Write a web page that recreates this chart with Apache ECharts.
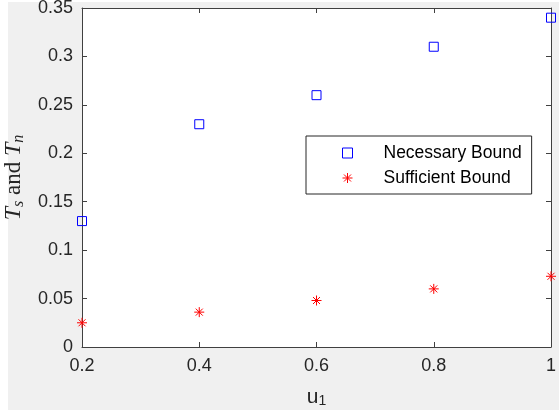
<!DOCTYPE html>
<html>
<head>
<meta charset="utf-8">
<script src="https://cdn.jsdelivr.net/npm/echarts@6/dist/echarts.min.js"></script>
<style>
html,body{margin:0;padding:0;background:#f0f0f0;}
#chart{width:559px;height:410px;}
</style>
</head>
<body>
<div id="chart"></div>
<script>
const xValues = [0.2, 0.4, 0.6, 0.8, 1.0];
const necessaryBound = [0.13, 0.23, 0.26, 0.31, 0.34];
const sufficientBound = [0.025, 0.036, 0.048, 0.06, 0.073];
const seriesNames = ['Necessary Bound', 'Sufficient Bound'];

const starPath = 'path://M0,5L10,5M5,0L5,10M1.5,1.5L8.5,8.5M8.5,1.5L1.5,8.5';
const squarePath = 'path://M0,0L10,0L10,10L0,10Z';
const axisColor = '#404040';
const textColor = '#262626';
const fmt = v => parseFloat(v.toFixed(2)).toString();

const chart = echarts.init(document.getElementById('chart'), null, {renderer: 'canvas'});
const gridBox = {left: 82, top: 8, width: 469, height: 339};

const necStyle = {color: 'none', borderColor: '#0000ff', borderWidth: 1, opacity: 1};
const sufStyle = {color: 'none', borderColor: '#ff0000', borderWidth: 1, opacity: 1};

chart.setOption({
  backgroundColor: '#f0f0f0',
  animation: false,
  graphic: [
    {type: 'rect', shape: {x: 0, y: 0, width: 8, height: 410}, style: {fill: '#ffffff'}, z: -1},
    {type: 'rect', shape: {x: 0, y: 0, width: 559, height: 2}, style: {fill: '#ffffff'}, z: -1}
  ],
  grid: Object.assign({backgroundColor: '#ffffff', show: true, borderWidth: 0, containLabel: false, outerBoundsMode: 'none'}, gridBox),
  legend: {
    orient: 'vertical',
    left: 306, top: 136,
    padding: [8, 10, 7, 34],
    itemWidth: 62, itemHeight: 10, itemGap: 7,
    backgroundColor: '#ffffff',
    borderColor: '#262626', borderWidth: 1,
    textStyle: {fontFamily: 'Liberation Sans, Arial', fontSize: 17.5, lineHeight: 17, color: '#000'},
    data: [
      {name: seriesNames[0], icon: squarePath, itemStyle: necStyle},
      {name: seriesNames[1], icon: starPath, itemStyle: sufStyle}
    ]
  },
  xAxis: [{
    type: 'value', min: 0.2, max: 1, interval: 0.2, position: 'bottom',
    name: '{u|u}{s|1}', nameLocation: 'middle', nameGap: 38,
    nameTextStyle: {rich: {
      u: {fontFamily: 'Liberation Sans, Arial', fontSize: 21, color: textColor, lineHeight: 22},
      s: {fontFamily: 'Liberation Sans, Arial', fontSize: 14, color: textColor, lineHeight: 22, verticalAlign: 'bottom', padding: [14, 0, 0, 0]}
    }},
    axisLine: {show: true, onZero: false, lineStyle: {color: axisColor, width: 1}},
    axisTick: {show: true, inside: true, length: 5, lineStyle: {color: axisColor}},
    axisLabel: {formatter: fmt, fontFamily: 'Liberation Sans, Arial', fontSize: 18, color: textColor, margin: 10},
    splitLine: {show: false}
  }, {
    type: 'value', min: 0.2, max: 1, interval: 0.2, position: 'top',
    axisLine: {show: true, onZero: false, lineStyle: {color: axisColor, width: 1}},
    axisTick: {show: true, inside: true, length: 5, lineStyle: {color: axisColor}},
    axisLabel: {show: false}, splitLine: {show: false}
  }],
  yAxis: [{
    type: 'value', min: 0, max: 0.35, interval: 0.05, position: 'left',
    name: '{i|T}{s|s}{r| and }{i|T}{s|n}', nameLocation: 'middle', nameGap: 52, nameRotate: 90,
    nameTextStyle: {rich: {
      i: {fontFamily: 'Liberation Serif', fontStyle: 'italic', fontSize: 24, color: textColor, lineHeight: 26},
      r: {fontFamily: 'Liberation Serif', fontSize: 23, color: textColor, lineHeight: 26},
      s: {fontFamily: 'Liberation Serif', fontStyle: 'italic', fontSize: 16, color: textColor, lineHeight: 26, verticalAlign: 'bottom', padding: [10, 0, 0, 0]}
    }},
    axisLine: {show: true, onZero: false, lineStyle: {color: axisColor, width: 1}},
    axisTick: {show: true, inside: true, length: 5, lineStyle: {color: axisColor}},
    axisLabel: {formatter: fmt, fontFamily: 'Liberation Sans, Arial', fontSize: 18, color: textColor, margin: 9},
    splitLine: {show: false}
  }, {
    type: 'value', min: 0, max: 0.35, interval: 0.05, position: 'right',
    axisLine: {show: true, onZero: false, lineStyle: {color: axisColor, width: 1}},
    axisTick: {show: true, inside: true, length: 5, lineStyle: {color: axisColor}},
    axisLabel: {show: false}, splitLine: {show: false}
  }],
  series: [{
    name: seriesNames[0], type: 'scatter', xAxisIndex: 0, yAxisIndex: 0,
    symbol: 'rect', symbolSize: 9,
    itemStyle: necStyle,
    data: xValues.map((x, i) => [x, necessaryBound[i]])
  }, {
    name: seriesNames[1], type: 'scatter', xAxisIndex: 0, yAxisIndex: 0,
    symbol: starPath, symbolSize: 10,
    itemStyle: sufStyle,
    data: xValues.map((x, i) => [x, sufficientBound[i]])
  }]
});
</script>
</body>
</html>
